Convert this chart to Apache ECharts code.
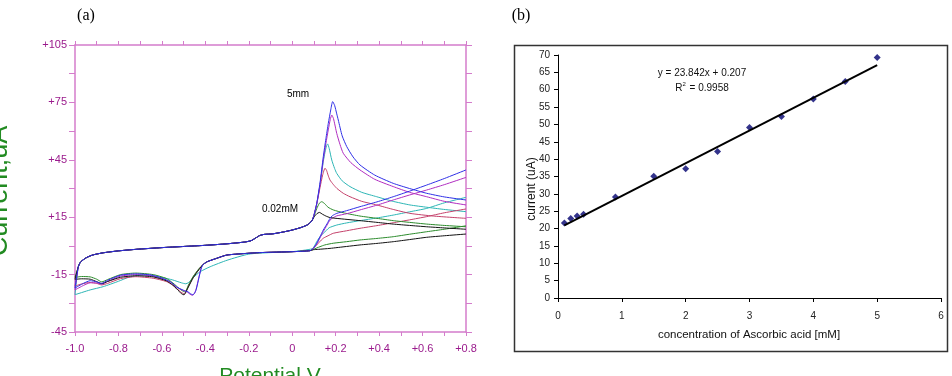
<!DOCTYPE html>
<style>
body {margin: 0; background: #fff;}
#div_echart {height: 376px; width: 952px;}
</style>
<script src='https://cdn.jsdelivr.net/npm/echarts@6/dist/echarts.min.js'></script>
<div id='div_echart'></div>
<script>
// (a) cyclic voltammograms, [potential V, current uA]
// stretches that every scan shares
let upperBase = [[-0.985,-11],[-0.975,-8.5],[-0.95,-6.3],[-0.92,-4.8],[-0.87,-3.6],[-0.8,-2.6],[-0.72,-1.8],[-0.6,-0.9],[-0.5,-0.3],[-0.4,0.3],[-0.3,1.1],[-0.22,2.0],[-0.19,2.7],[-0.17,4.0],[-0.15,5.4],[-0.13,6.0],[-0.09,6.3],[-0.04,7.3],[0,8.3],[0.04,9.6],[0.07,11.0],[0.09,13.0]]
let lowerBase = [[0.082,-2.5],[0.005,-3.0],[-0.148,-3.5],[-0.22,-4],[-0.302,-4.8],[-0.348,-6.5],[-0.39,-8.2],[-0.409,-9.6]]

// oxidation peak, going right
let bluePeak = [[0.10,16],[0.113,22.3],[0.128,33],[0.143,46.6],[0.155,56],[0.166,64],[0.178,71.5],[0.186,75.4],[0.195,73.5],[0.205,69],[0.212,65.8],[0.23,57.5],[0.251,51.9],[0.28,46.5],[0.312,42.3],[0.38,37],[0.465,32.7],[0.54,30],[0.619,27.5],[0.7,25.6],[0.8,24.0]]
let magentaPeak = [[0.10,16],[0.113,22],[0.128,32],[0.143,45],[0.155,53.5],[0.166,60.6],[0.175,66],[0.182,68.4],[0.19,66.5],[0.205,58.8],[0.22,53],[0.235,48.4],[0.27,43.5],[0.312,39.7],[0.38,34.8],[0.465,31.0],[0.54,28],[0.619,25.7],[0.7,23.3],[0.8,21.4]]
let cyanPeak = [[0.10,16],[0.113,22],[0.128,32],[0.143,44],[0.151,49],[0.158,52.3],[0.163,53.3],[0.17,51],[0.182,44.9],[0.195,40.5],[0.205,37.9],[0.23,34],[0.266,31.0],[0.32,28],[0.389,25.7],[0.46,23.4],[0.542,21.4],[0.62,20.2],[0.696,19.1],[0.8,17.9]]
let redPeak = [[0.10,16],[0.113,22],[0.128,30.5],[0.14,37],[0.151,40.6],[0.158,39.5],[0.165,37],[0.174,34.4],[0.19,32],[0.205,30.1],[0.235,27.5],[0.266,25.7],[0.32,23.3],[0.389,21.4],[0.46,19.2],[0.542,17.0],[0.65,15.6],[0.8,14.4]]
let greenPeak = [[0.10,15.5],[0.113,19.5],[0.125,22.3],[0.136,23.1],[0.15,22],[0.165,20.2],[0.189,18.8],[0.24,17.2],[0.312,15.6],[0.39,14.4],[0.465,13.2],[0.54,12.3],[0.619,11.4],[0.7,10.7],[0.8,10.0]]
let blackPeak = [[0.10,15],[0.113,16.8],[0.125,17.5],[0.14,16.5],[0.155,15.6],[0.174,14.8],[0.22,14.2],[0.312,13.2],[0.39,12.3],[0.465,11.4],[0.54,10.7],[0.619,10.0],[0.7,9.4],[0.8,8.7]]

// return sweep from +0.8 down to the foot of the peak
let blueBack = [[0.8,39.7],[0.7,35.2],[0.619,31.8],[0.54,28.6],[0.465,25.7],[0.39,23],[0.312,20.5],[0.25,18.4],[0.205,17.0],[0.185,15.8],[0.174,14.4],[0.16,11.5],[0.143,8.3],[0.128,4.8],[0.113,1.4],[0.097,-1.3]]
let magentaBack = [[0.8,35.8],[0.7,32],[0.619,29.2],[0.54,26.6],[0.465,24.0],[0.39,21.3],[0.312,18.8],[0.25,16.8],[0.205,15.7],[0.185,14.5],[0.174,13.5],[0.16,10.8],[0.143,7.5],[0.128,4.2],[0.113,1.0],[0.097,-1.4]]
let cyanBack = [[0.8,25.4],[0.7,22.5],[0.619,19.6],[0.54,17.8],[0.465,16.1],[0.39,14.6],[0.312,13.2],[0.25,12],[0.205,10.9],[0.17,9.5],[0.159,8.3],[0.143,6.6],[0.128,4.8],[0.113,2.3],[0.105,0.5],[0.092,-1.5]]
let redBack = [[0.8,19.3],[0.7,17.3],[0.619,15.3],[0.54,13.6],[0.465,12.1],[0.39,10.6],[0.312,9.2],[0.25,7.9],[0.189,6.6],[0.165,5.3],[0.143,4.0],[0.125,2.0],[0.113,0.5],[0.095,-1.5]]
let greenBack = [[0.8,10.5],[0.7,8.7],[0.619,7.4],[0.54,6.1],[0.465,4.8],[0.39,3.9],[0.312,3.1],[0.25,2.2],[0.189,1.4],[0.15,0.5],[0.128,-0.4],[0.097,-1.8]]
let blackBack = [[0.8,6.2],[0.7,5.3],[0.619,4.5],[0.54,3.3],[0.465,2.2],[0.39,1.3],[0.312,0.5],[0.25,-0.3],[0.174,-1.3],[0.12,-1.8],[0.097,-2.0]]

// reduction wave and left end, going left to -1.0
let blueLow = [[-0.418,-11.5],[-0.426,-15],[-0.434,-19],[-0.442,-22.8],[-0.45,-24.8],[-0.458,-25.5],[-0.468,-25],[-0.48,-24],[-0.5,-23.2],[-0.532,-21.5],[-0.56,-18.8],[-0.6,-16.8],[-0.65,-15.2],[-0.72,-14.6],[-0.79,-15.3],[-0.85,-18],[-0.877,-19.6],[-0.9,-18.8],[-0.93,-18.2],[-0.96,-19.5],[-1.0,-22]]
let magentaLow = [[-0.418,-11],[-0.428,-15.5],[-0.436,-19.5],[-0.444,-23.2],[-0.452,-25.2],[-0.46,-25.8],[-0.47,-25.3],[-0.482,-24.2],[-0.5,-23.4],[-0.532,-21.5],[-0.56,-19],[-0.6,-17],[-0.65,-15.6],[-0.72,-15],[-0.79,-15.8],[-0.85,-18.6],[-0.877,-20],[-0.9,-19.4],[-0.93,-19.3],[-0.96,-20.6],[-1.0,-23]]
let cyanLow = [[0.0,-3.0],[-0.1,-3.5],[-0.2,-4.3],[-0.3,-7.5],[-0.378,-10.9],[-0.424,-13.5],[-0.455,-16.5],[-0.478,-19.2],[-0.49,-19.8],[-0.51,-19.3],[-0.55,-17.8],[-0.6,-16.5],[-0.685,-15.2],[-0.75,-16.3],[-0.8,-18.5],[-0.87,-21.3],[-0.93,-23],[-1.0,-25.5]]
let redLow = [[-0.43,-12.2],[-0.455,-16.2],[-0.478,-21],[-0.495,-25],[-0.508,-24.5],[-0.52,-23.4],[-0.55,-20.5],[-0.58,-18.6],[-0.64,-16.9],[-0.72,-16.1],[-0.79,-17.1],[-0.85,-19.6],[-0.877,-20.4],[-0.9,-19.6],[-0.93,-19.1],[-0.97,-19.9],[-1.0,-21]]
let greenLow = [[-0.43,-12],[-0.455,-15.8],[-0.478,-20.5],[-0.493,-24.1],[-0.505,-23.5],[-0.52,-22.3],[-0.55,-19.3],[-0.58,-17],[-0.64,-15],[-0.72,-14.2],[-0.79,-15],[-0.85,-17.6],[-0.877,-18.8],[-0.9,-17.4],[-0.93,-16.2],[-0.97,-16],[-1.0,-16.5]]
let blackLow = [[-0.43,-12.5],[-0.455,-16.5],[-0.478,-21.5],[-0.49,-24.2],[-0.498,-25.6],[-0.51,-25],[-0.52,-23.8],[-0.55,-20.5],[-0.58,-18.2],[-0.64,-16.2],[-0.72,-15.6],[-0.79,-16.4],[-0.85,-18.6],[-0.877,-19.7],[-0.9,-18.7],[-0.93,-17.4],[-0.97,-17.2],[-1.0,-17.5]]

// (b) calibration
let concentration = [0.1, 0.2, 0.3, 0.4, 0.9, 1.5, 2, 2.5, 3, 3.5, 4, 4.5, 5]
let peakCurrent = [21.6, 22.9, 23.6, 24.1, 29.1, 35.1, 37.2, 42.2, 49.1, 52.3, 57.3, 62.4, 69.3]
let trendLine = [[0.1, 20.9], [5, 67.1]]

let scans = [
	['#2cb5b5', cyanBack, false, cyanLow, cyanPeak],
	['#c4406a', redBack, true, redLow, redPeak],
	['#2a8a2a', greenBack, true, greenLow, greenPeak],
	['#b02cc0', magentaBack, true, magentaLow, magentaPeak],
	['#111111', blackBack, true, blackLow, blackPeak],
	['#2f2fe6', blueBack, true, blueLow, bluePeak],
]

let pink = '#d47ccb'
let purple = '#9a1a8c'
let green = '#228b22'
let font = 'Liberation Sans, Arial, sans-serif'

let echart = echarts.init(document.getElementById('div_echart'))

let series = scans.map(([color, back, shared, low, peak]) => ({
	type: 'line', xAxisIndex: 0, yAxisIndex: 0, showSymbol: false, smooth: 0.2,
	lineStyle: {color, width: 1}, silent: true,
	data: [...back, ...(shared ? lowerBase : []), ...low, ...upperBase, ...peak],
}))
series.push({
	type: 'line', xAxisIndex: 2, yAxisIndex: 2, showSymbol: false, silent: true,
	lineStyle: {color: '#000', width: 2}, data: trendLine,
})
series.push({
	type: 'scatter', xAxisIndex: 2, yAxisIndex: 2, symbol: 'diamond', symbolSize: 7,
	itemStyle: {color: '#00006e'}, data: concentration.map((c, i) => [c, peakCurrent[i]]),
})

let frameX = (pos, labels) => ({
	type: 'value', gridIndex: 0, position: pos, min: -1, max: 0.8, interval: 0.1,
	axisLine: {onZero: false, lineStyle: {color: pink, width: 1.5}},
	axisTick: {show: true, length: 4, lineStyle: {color: pink}},
	splitLine: {show: false},
	axisLabel: {show: labels, color: purple, fontSize: 11, fontFamily: font, margin: 7,
		formatter: v => {
			let k = Math.round(v * 10)
			if (k % 2) return ''
			if (k === 0) return '0'
			return (k > 0 ? '+' : '-') + (Math.abs(k) / 10).toFixed(1)
		}},
})
let frameY = (pos, labels) => ({
	type: 'value', gridIndex: 0, position: pos, min: -45, max: 105, interval: 15,
	axisLine: {onZero: false, lineStyle: {color: pink, width: 1.5}},
	axisTick: {show: true, length: 6, lineStyle: {color: pink}},
	splitLine: {show: false},
	axisLabel: {show: labels, color: purple, fontSize: 11, fontFamily: font, margin: 8,
		formatter: v => ((v + 45) % 30 === 0 ? (v > 0 ? '+' + v : '' + v) : '')},
})

echart.setOption({
	animation: false,
	grid: [
		{left: 75, top: 45, width: 391, height: 287},
		{left: 558, top: 55, width: 383, height: 243},
	],
	xAxis: [
		frameX('bottom', true),
		frameX('top', false),
		{type: 'value', gridIndex: 1, min: 0, max: 6, interval: 1,
			axisLine: {lineStyle: {color: '#000', width: 1}},
			axisTick: {length: 4, lineStyle: {color: '#000'}},
			splitLine: {show: false},
			axisLabel: {color: '#222', fontSize: 10, fontFamily: font, margin: 10}},
	],
	yAxis: [
		frameY('left', true),
		frameY('right', false),
		{type: 'value', gridIndex: 1, min: 0, max: 70, interval: 5,
			axisLine: {show: true, lineStyle: {color: '#000', width: 1}},
			axisTick: {show: true, length: 4, lineStyle: {color: '#000'}},
			splitLine: {show: false},
			axisLabel: {color: '#222', fontSize: 10, fontFamily: font, margin: 8}},
	],
	series,
	graphic: [
		{type: 'text', x: 86, y: 16, style: {text: '(a)', font: '16px Liberation Serif', fill: '#000', align: 'center', verticalAlign: 'middle'}},
		{type: 'text', x: 521, y: 16, style: {text: '(b)', font: '16px Liberation Serif', fill: '#000', align: 'center', verticalAlign: 'middle'}},
		{type: 'text', x: 0, y: 191, rotation: Math.PI / 2, style: {text: 'Current,uA', font: '27px ' + font, fill: green, align: 'center', verticalAlign: 'middle'}},
		{type: 'text', x: 270, y: 376, style: {text: 'Potential,V', font: '21px ' + font, fill: green, align: 'center', verticalAlign: 'middle'}},
		{type: 'text', x: 298, y: 94, style: {text: '5mm', font: '10px ' + font, fill: '#000', align: 'center', verticalAlign: 'middle'}},
		{type: 'text', x: 280, y: 209, style: {text: '0.02mM', font: '10px ' + font, fill: '#000', align: 'center', verticalAlign: 'middle'}},
		{type: 'rect', shape: {x: 514.5, y: 45.5, width: 433, height: 306}, style: {fill: 'none', stroke: '#333', lineWidth: 1.5}},
		{type: 'text', x: 702, y: 73, style: {text: 'y = 23.842x + 0.207', font: '10px ' + font, fill: '#111', align: 'center', verticalAlign: 'middle'}},
		{type: 'text', x: 702, y: 88, style: {text: '{t|R}{s|2}{t| = 0.9958}', align: 'center', verticalAlign: 'middle',
			rich: {t: {font: '10px ' + font, fill: '#111'}, s: {font: '6px ' + font, fill: '#111', verticalAlign: 'top', padding: [0, 1, 4, 0]}}}},
		{type: 'text', x: 532, y: 189, rotation: Math.PI / 2, style: {text: 'current (uA)', font: '12px ' + font, fill: '#111', align: 'center', verticalAlign: 'middle'}},
		{type: 'text', x: 749, y: 335, style: {text: 'concentration of Ascorbic acid [mM]', font: '11.5px ' + font, fill: '#111', align: 'center', verticalAlign: 'middle'}},
	],
})
</script>
